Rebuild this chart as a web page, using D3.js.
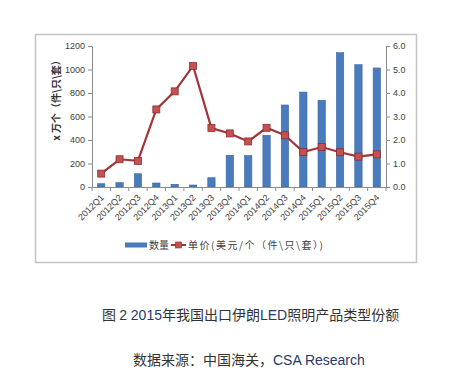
<html>
<head>
  <meta charset="utf-8">
  <style>
    body {
      margin: 0px;
      padding: 0px;
      background-color: white;
    }
    svg {
      display: block;
    }
  </style>
</head>
<body>
  <div id="chart"></div>
  <script src="https://cdnjs.cloudflare.com/ajax/libs/d3/7.8.5/d3.min.js"></script>
  <script>
    // quarters along the x axis
    var quarters = ['2012Q1', '2012Q2', '2012Q3', '2012Q4', '2013Q1', '2013Q2', '2013Q3', '2013Q4',
      '2014Q1', '2014Q2', '2014Q3', '2014Q4', '2015Q1', '2015Q2', '2015Q3', '2015Q4'];
    // 数量 (万个) - left axis
    var quantity = [28, 37, 113, 34, 23, 17, 79, 270, 267, 440, 698, 808, 738, 1143, 1041, 1013];
    // 单价 (美元/个) - right axis
    var unitPrice = [0.57, 1.18, 1.11, 3.30, 4.07, 5.15, 2.51, 2.28, 1.94, 2.52, 2.20, 1.49, 1.70, 1.48, 1.29, 1.39];
    var leftTicks = [0, 200, 400, 600, 800, 1000, 1200];
    var rightTicks = [0, 1, 2, 3, 4, 5, 6];

    var width = 475,
      height = 375,
      plotLeft = 92,
      plotRight = 386,
      plotTop = 46,
      plotBottom = 187;

    var svg = d3.select('#chart').append('svg')
      .attr('width', width)
      .attr('height', height);

    // chart frame
    svg.append('rect')
      .attr('x', 35.5)
      .attr('y', 34.5)
      .attr('width', 381)
      .attr('height', 228)
      .attr('fill', 'white')
      .attr('stroke', '#c4c4c4')
      .attr('stroke-width', 1.5);

    var x = d3.scaleBand()
      .domain(quarters)
      .range([plotLeft, plotRight])
      .paddingInner(0.6)
      .paddingOuter(0.3);

    var yLeft = d3.scaleLinear().domain([0, 1200]).range([plotBottom, plotTop]);
    var yRight = d3.scaleLinear().domain([0, 6]).range([plotBottom, plotTop]);

    var fontFam = '"Liberation Sans", Arial, sans-serif';

    // bars
    svg.selectAll('rect.bar')
      .data(quantity)
      .enter()
      .append('rect')
      .attr('class', 'bar')
      .attr('x', function(d, i) { return x(quarters[i]); })
      .attr('y', function(d) { return yLeft(d); })
      .attr('width', x.bandwidth())
      .attr('height', function(d) { return plotBottom - yLeft(d); })
      .attr('fill', '#4a7cbd')
      .attr('stroke', '#3a66a3')
      .attr('stroke-width', 0.6);

    // left axis
    var leftAxis = svg.append('g')
      .attr('transform', 'translate(' + plotLeft + ',0)')
      .call(d3.axisLeft(yLeft).tickValues(leftTicks).tickFormat(d3.format('d')).tickSize(4).tickSizeOuter(0).tickPadding(3));

    // right axis
    var rightAxis = svg.append('g')
      .attr('transform', 'translate(' + plotRight + ',0)')
      .call(d3.axisRight(yRight).tickValues(rightTicks).tickFormat(d3.format('.1f')).tickSize(4).tickSizeOuter(0).tickPadding(3));

    // x axis with ticks between bands
    var xAxis = svg.append('g')
      .attr('transform', 'translate(0,' + plotBottom + ')')
      .call(d3.axisBottom(x).tickSize(0).tickSizeOuter(0));

    var step = x.step();
    xAxis.selectAll('line.sep')
      .data(d3.range(quarters.length + 1))
      .enter()
      .append('line')
      .attr('class', 'sep')
      .attr('x1', function(i) { return plotLeft + i * step; })
      .attr('x2', function(i) { return plotLeft + i * step; })
      .attr('y1', 0)
      .attr('y2', 4)
      .attr('stroke', '#8c8c8c');

    xAxis.selectAll('.tick text')
      .attr('x', 0)
      .attr('y', 0)
      .attr('dy', '0.35em')
      .attr('text-anchor', 'end')
      .attr('transform', 'translate(1,9) rotate(-45)');

    [leftAxis, rightAxis, xAxis].forEach(function(g) {
      g.select('.domain').attr('stroke', '#8c8c8c');
      g.selectAll('.tick line').attr('stroke', '#8c8c8c');
      g.selectAll('text')
        .attr('font-family', fontFam)
        .attr('font-size', '9px')
        .attr('fill', '#404040');
    });

    // price line
    var line = d3.line()
      .x(function(d, i) { return x(quarters[i]) + x.bandwidth() / 2; })
      .y(function(d) { return yRight(d); });

    svg.append('path')
      .datum(unitPrice)
      .attr('d', line)
      .attr('fill', 'none')
      .attr('stroke', '#a0353a')
      .attr('stroke-width', 2.2);

    svg.selectAll('rect.marker')
      .data(unitPrice)
      .enter()
      .append('rect')
      .attr('class', 'marker')
      .attr('x', function(d, i) { return x(quarters[i]) + x.bandwidth() / 2 - 3.5; })
      .attr('y', function(d) { return yRight(d) - 3.5; })
      .attr('width', 7)
      .attr('height', 7)
      .attr('fill', '#c4504f')
      .attr('stroke', '#8e2e32')
      .attr('stroke-width', 0.8);

    // y axis title
    svg.append('text')
      .attr('transform', 'translate(60,98) rotate(-90)')
      .attr('text-anchor', 'middle')
      .attr('font-family', '"Noto Sans CJK SC", sans-serif')
      .attr('font-size', '10px')
      .attr('font-weight', 'bold')
      .attr('fill', '#333')
      .text('x 万个（件\\只\\套）');

    // legend
    var legend = svg.append('g')
      .attr('font-family', '"Noto Sans CJK SC", sans-serif')
      .attr('font-size', '10px')
      .attr('fill', '#404040');

    legend.append('rect')
      .attr('x', 125)
      .attr('y', 242.5)
      .attr('width', 22)
      .attr('height', 5)
      .attr('fill', '#4a7cbd');
    legend.append('text')
      .attr('x', 149)
      .attr('y', 248.5)
      .text('数量');
    legend.append('line')
      .attr('x1', 171)
      .attr('x2', 186)
      .attr('y1', 245)
      .attr('y2', 245)
      .attr('stroke', '#a0353a')
      .attr('stroke-width', 2);
    legend.append('rect')
      .attr('x', 175.5)
      .attr('y', 242)
      .attr('width', 6)
      .attr('height', 6)
      .attr('fill', '#c4504f')
      .attr('stroke', '#8e2e32')
      .attr('stroke-width', 0.6);
    legend.append('text')
      .attr('x', 188)
      .attr('y', 248.5)
      .attr('textLength', 135)
      .attr('lengthAdjust', 'spacing')
      .text('单价(美元/个（件\\只\\套）)');

    // caption and source
    var latin = '#263a66';
    var caption = svg.append('text')
      .attr('x', 102)
      .attr('y', 320)
      .attr('font-family', '"Noto Sans CJK SC", sans-serif')
      .attr('font-size', '14px')
      .attr('fill', '#333');
    caption.append('tspan').text('图 ');
    caption.append('tspan').attr('fill', latin).attr('font-family', fontFam).text('2 2015');
    caption.append('tspan').text('年我国出口伊朗');
    caption.append('tspan').attr('fill', latin).attr('font-family', fontFam).text('LED');
    caption.append('tspan').text('照明产品类型份额');

    var source = svg.append('text')
      .attr('x', 133)
      .attr('y', 365)
      .attr('font-family', '"Noto Sans CJK SC", sans-serif')
      .attr('font-size', '14px')
      .attr('fill', '#333');
    source.append('tspan').text('数据来源：中国海关，');
    source.append('tspan').attr('fill', latin).attr('font-family', fontFam).text('CSA Research');
  </script>
</body>
</html>
